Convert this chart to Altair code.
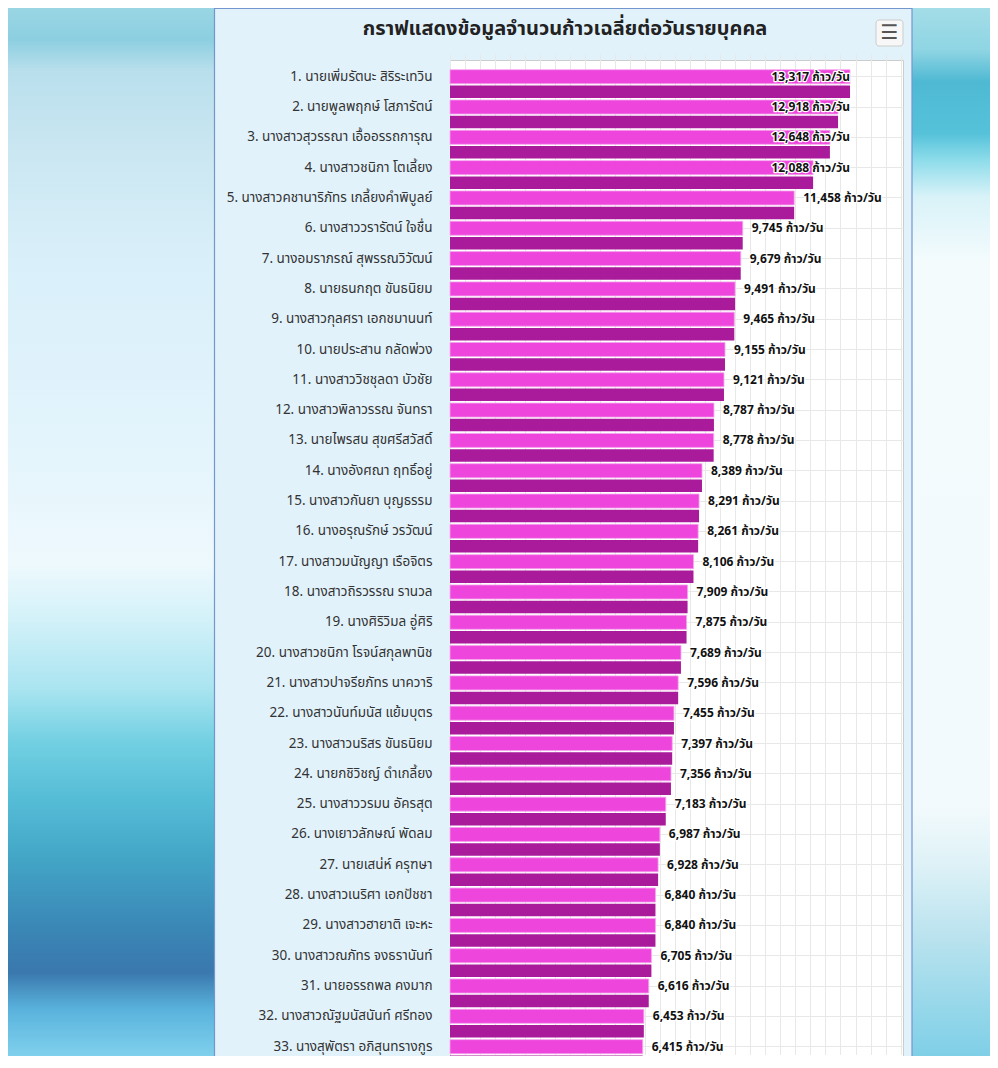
import altair as alt
import pandas as pd

names = [
    "1. นายเพิ่มรัตนะ สิริระเทวิน",
    "2. นายพูลพฤกษ์ โสภารัตน์",
    "3. นางสาวสุวรรณา เอื้ออรรถการุณ",
    "4. นางสาวชนิกา โตเลี้ยง",
    "5. นางสาวคชานาริภัทร เกลี้ยงคำพิบูลย์",
    "6. นางสาววรารัตน์ ใจชื่น",
    "7. นางอมราภรณ์ สุพรรณวิวัฒน์",
    "8. นายธนกฤต ขันธนิยม",
    "9. นางสาวกุลศรา เอกชมานนท์",
    "10. นายประสาน กลัดพ่วง",
    "11. นางสาววิชชุลดา บัวชัย",
    "12. นางสาวพิลาวรรณ จันทรา",
    "13. นายไพรสน สุขศรีสวัสดิ์",
    "14. นางอังศณา ฤทธิ์อยู่",
    "15. นางสาวกันยา บุญธรรม",
    "16. นางอรุณรักษ์ วรวัฒน์",
    "17. นางสาวมนัญญา เรือจิตร",
    "18. นางสาวถิรวรรณ รานวล",
    "19. นางศิริวิมล อู่ศิริ",
    "20. นางสาวชนิกา โรจน์สกุลพานิช",
    "21. นางสาวปาจรียภัทร นาควาริ",
    "22. นางสาวนันท์มนัส แย้มบุตร",
    "23. นางสาวนริสร ขันธนิยม",
    "24. นายกชิวิชญ์ ดำเกลี้ยง",
    "25. นางสาววรมน อัครสุต",
    "26. นางเยาวลักษณ์ พัดลม",
    "27. นายเสน่ห์ ครุฑษา",
    "28. นางสาวเนริศา เอกปัชชา",
    "29. นางสาวฮายาติ เจะหะ",
    "30. นางสาวณภัทร จงธรานันท์",
    "31. นายอรรถพล คงมาก",
    "32. นางสาวณัฐมนัสนันท์ ศรีทอง",
    "33. นางสุพัตรา อภิสุนทรางกูร",
]
values = [13317, 12918, 12648, 12088, 11458, 9745, 9679, 9491, 9465, 9155,
          9121, 8787, 8778, 8389, 8291, 8261, 8106, 7909, 7875, 7689,
          7596, 7455, 7397, 7356, 7183, 6987, 6928, 6840, 6840, 6705,
          6616, 6453, 6415]
title_text = "กราฟแสดงข้อมูลจำนวนก้าวเฉลี่ยต่อวันรายบุคคล"
unit = "ก้าว/วัน"
grid_values = list(range(0, 15001, 500))

THAI = "Tahoma, 'Noto Sans Thai', 'Noto Sans', 'DejaVu Sans', sans-serif"

df = pd.DataFrame({"name": names, "value": values})
one = pd.DataFrame({"k": [0]})

W, H = 453, 996

x_scale = alt.Scale(domain=[0, 15081], nice=False, zero=True)
y_scale = alt.Scale(domain=names, range=[1.55, 1001.8], paddingInner=0, paddingOuter=0)
x_axis = alt.Axis(values=grid_values, labels=False, ticks=False, domain=False,
                  title=None, grid=True, gridColor="#e8e8e8")
y_axis = alt.Axis(title=None, ticks=False, domain=False, labelPadding=18,
                  labelLimit=400, labelFontSize=13.5, labelColor="#333333",
                  labelFont=THAI, grid=True, gridColor="#e8e8e8")

X = alt.X("value:Q", scale=x_scale, axis=x_axis)
Y = alt.Y("name:N", sort=None, scale=y_scale, axis=y_axis)

base = alt.Chart(df)

top_face = base.mark_bar(fill="#EE46DD", stroke="#f6a3ee", strokeWidth=0.8,
                         height=14, yOffset=0).encode(x=X, y=Y)
front_face = base.mark_bar(fill="#A91B9A", height=12.5, yOffset=15).encode(x=X, y=Y)

lab = base.transform_calculate(
    lx="datum.value > 12000 ? 10400 : datum.value",
    txt="format(datum.value, ',') + ' " + unit + "'",
)
LX = alt.X("lx:Q", scale=x_scale, axis=x_axis)
halo = lab.mark_text(align="left", baseline="middle", dx=9, fontSize=12,
                     fontWeight="bold", font=THAI, fill="white", stroke="white",
                     strokeWidth=2.5, strokeJoin="round").encode(x=LX, y=Y, text="txt:N")
labels = lab.mark_text(align="left", baseline="middle", dx=9, fontSize=12,
                       fontWeight="bold", font=THAI, fill="#111111").encode(x=LX, y=Y, text="txt:N")

left_grad = alt.Gradient(
    gradient="linear", x1=0, y1=0, x2=0, y2=1,
    stops=[alt.GradientStop(offset=o, color=c) for o, c in [
        (0.00, "#9ad6e4"), (0.03, "#8ccfe0"), (0.06, "#b9dfec"), (0.14, "#cbe7f2"),
        (0.23, "#d8eff9"), (0.41, "#e3f4fc"), (0.53, "#eef9fd"), (0.585, "#d2f1f9"),
        (0.65, "#a9e4f0"), (0.70, "#72d0e2"), (0.756, "#55bcd6"), (0.81, "#43a6c7"),
        (0.88, "#3a86b5"), (0.92, "#3a78ad"), (0.956, "#5ab3dd"), (1.00, "#7fd0ec")]])
right_grad = alt.Gradient(
    gradient="linear", x1=0, y1=0, x2=0, y2=1,
    stops=[alt.GradientStop(offset=o, color=c) for o, c in [
        (0.00, "#a3dde8"), (0.04, "#8fd5e3"), (0.07, "#4fb9d3"), (0.12, "#56c2da"),
        (0.145, "#8ddcea"), (0.18, "#d8f2f8"), (0.24, "#f3fbfd"), (0.76, "#f3fafd"),
        (0.815, "#dff2f7"), (0.89, "#b8e2ee"), (0.95, "#98d8ea"), (1.00, "#7fcfe7")]])

dec = alt.Chart(one)
left_strip = dec.mark_rect(fill=left_grad).encode(
    x=alt.value(-442), x2=alt.value(-236), y=alt.value(-52), y2=alt.value(H))
right_strip = dec.mark_rect(fill=right_grad).encode(
    x=alt.value(462), x2=alt.value(W + 87), y=alt.value(-52), y2=alt.value(H))
border = dec.mark_rect(fillOpacity=0, stroke="#7496cf", strokeWidth=1.2).encode(
    x=alt.value(-235.5), x2=alt.value(462), y=alt.value(-51.5), y2=alt.value(H + 20))
menu_box = dec.mark_rect(fill="#f7f7f7", stroke="#cccccc", cornerRadius=3).encode(
    x=alt.value(426), x2=alt.value(453), y=alt.value(-40), y2=alt.value(-14))
menu_icon = dec.mark_text(fontSize=20, font="DejaVu Sans", fill="#555555",
                          align="center", baseline="middle").encode(
    x=alt.value(439.5), y=alt.value(-27), text=alt.value("☰"))
title = dec.mark_text(fontSize=20, fontWeight="bold", font=THAI, fill="#222222",
                      align="center", baseline="middle").encode(
    x=alt.value(115), y=alt.value(-31), text=alt.value(title_text))

chart = alt.layer(
    left_strip, right_strip, border, menu_box, menu_icon, title,
    top_face, front_face, halo, labels,
).properties(
    width=W, height=H,
    autosize=alt.AutoSizeParams(type="none"),
    padding={"left": 442, "top": 52, "right": 87, "bottom": 0},
    background="#e2f2fb",
).configure_view(fill="white", stroke="#cccccc")

chart.save("out.html", embed_options={"renderer": "svg", "actions": False})
